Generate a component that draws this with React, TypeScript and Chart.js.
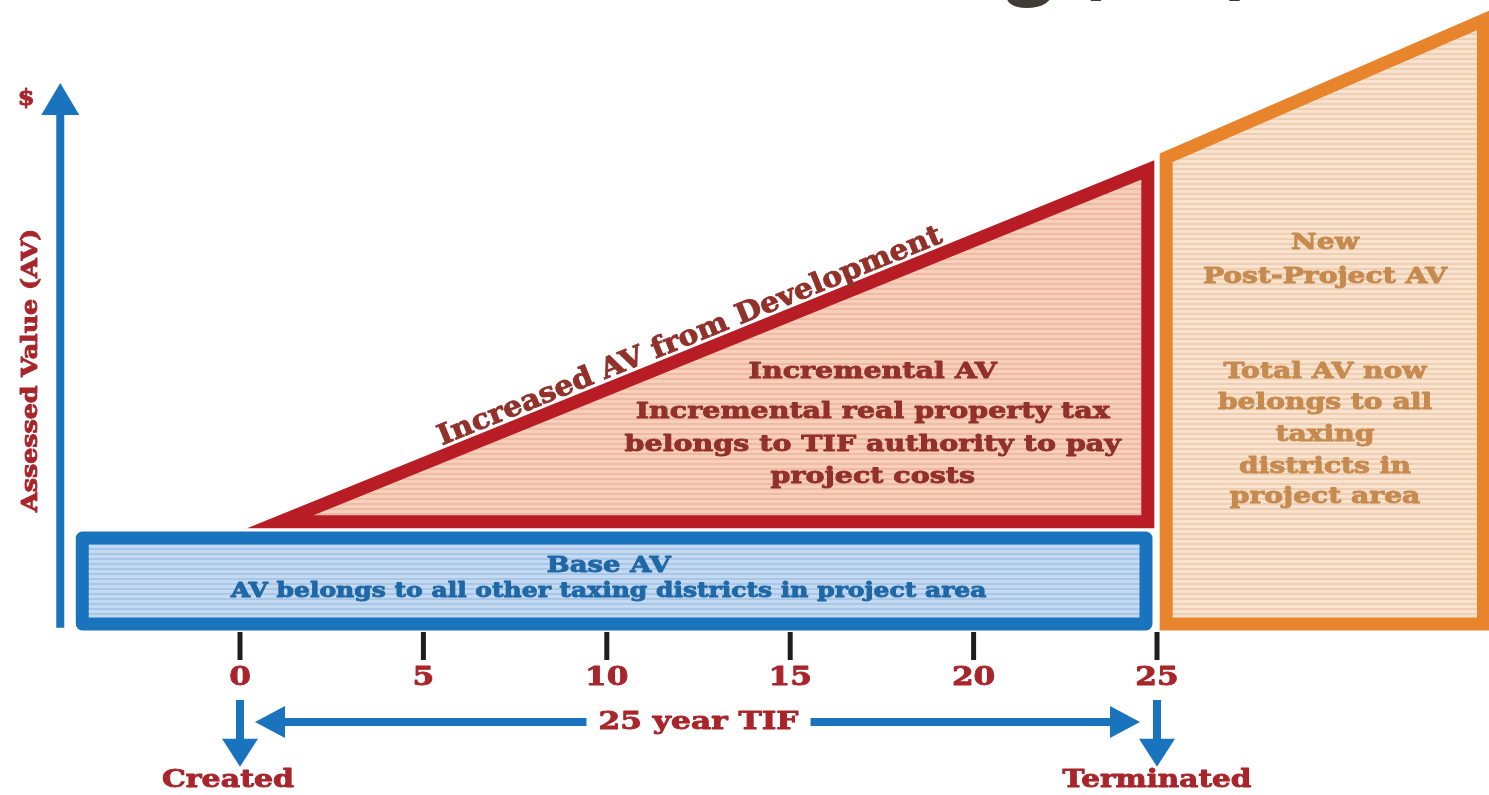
import React, { useEffect, useRef } from "react";
import { Chart, registerables } from "chart.js";

Chart.register(...registerables);

// ---------- data ----------
const tickYears = [0, 5, 10, 15, 20, 25];
const tickLabels = ["0", "5", "10", "15", "20", "25"];
const tifTerm = [0, 25];
const baseYears = [-4.3, 24.7];
const baseAV = [0, 10];
const incrementYears = [1.1, 24.75];
const incrementAV = [11.9, 52.8];
const postYears = [25.25, 33.9];
const postAVBottom = [0, 0];
const postAVTop = [54.2, 70.2];

// ---------- texts ----------
const titleText = "Tax Increment Financing (TIF)";
const yAxisTitle = "Assessed Value (AV)";
const slopeText = "Increased AV from Development";
const incrementalLines = [
  "Incremental AV",
  "Incremental real property tax",
  "belongs to TIF authority to pay",
  "project costs",
];
const baseLines = ["Base AV", "AV belongs to all other taxing districts in project area"];
const postLines = [
  "New",
  "Post-Project AV",
  "Total AV now",
  "belongs to all",
  "taxing",
  "districts in",
  "project area",
];
const termText = "25 year TIF";
const startText = "Created";
const endText = "Terminated";

// ---------- layout (data coordinates) ----------
const X_MIN = -6.543;
const X_MAX = 34.051;
const Y_MIN = -19.884;
const Y_MAX = 72.558;
const Y_AXIS_X = -4.9;
const incrementalTextX = 17.25;
const incrementalTextY = [29.3, 24.65, 20.8, 17.1];
const baseTextX = 10.05;
const baseTextY = [6.74, 3.72];
const postTextX = 29.58;
const postTextY = [44.3, 40.35, 29.3, 25.7, 21.98, 18.26, 14.77];
const tickTopY = -0.93;
const tickBottomY = -4.19;
const tickLabelY = -6.28;
const termArrowY = -11.4;
const downArrowTop = -8.84;
const downArrowTip = -16.6;
const startEndLabelY = -18.15;

const SERIF = '"DejaVu Serif", "Liberation Serif", serif';
const BLUE = "#1a74bd";
const RED = "#b81d25";
const ORANGE = "#e8842b";
const TEXT_RED = "#a8252b";
const TEXT_INC = "#92302a";
const TEXT_BLUE = "#1f68a6";
const TEXT_ORANGE = "#c68a4f";

function stripes(ctx: CanvasRenderingContext2D, base: string, stripe: string) {
  const c = document.createElement("canvas");
  c.width = 8;
  c.height = 5;
  const g = c.getContext("2d")!;
  g.fillStyle = base;
  g.fillRect(0, 0, 8, 5);
  g.fillStyle = stripe;
  g.fillRect(0, 3, 8, 2);
  return ctx.createPattern(c, "repeat")!;
}

const annotate = {
  id: "annotate",
  beforeDraw(chart: any) {
    const ctx = chart.ctx;
    ctx.save();
    ctx.fillStyle = "#ffffff";
    ctx.fillRect(0, 0, chart.width, chart.height);
    // partially visible page title
    ctx.font = 'bold 84px "Open Sans", sans-serif';
    ctx.fillStyle = "#403b37";
    ctx.textAlign = "right";
    ctx.textBaseline = "alphabetic";
    ctx.fillText(titleText, 1255, -12);
    ctx.restore();
  },
  afterDatasetsDraw(chart: any) {
    const ctx: CanvasRenderingContext2D = chart.ctx;
    const xs = chart.scales.x;
    const ys = chart.scales.y;
    const px = (v: number) => xs.getPixelForValue(v);
    const py = (v: number) => ys.getPixelForValue(v);
    const text = (
      s: string,
      x: number,
      y: number,
      size: number,
      color: string,
      hs = 1.2,
      baseline: CanvasTextBaseline = "middle"
    ) => {
      ctx.save();
      ctx.translate(x, y);
      ctx.scale(hs, 1);
      ctx.font = "bold " + size + "px " + SERIF;
      ctx.fillStyle = color;
      ctx.strokeStyle = color;
      ctx.lineWidth = 0.9;
      ctx.lineJoin = "round";
      ctx.textAlign = "center";
      ctx.textBaseline = baseline;
      ctx.fillText(s, 0, 0);
      ctx.strokeText(s, 0, 0);
      ctx.restore();
    };
    const arrowHead = (tx: number, ty: number, dx: number, dy: number, len: number, half: number) => {
      const bx = tx - dx * len;
      const by = ty - dy * len;
      ctx.fillStyle = BLUE;
      ctx.beginPath();
      ctx.moveTo(tx, ty);
      ctx.lineTo(bx - dy * half, by + dx * half);
      ctx.lineTo(bx + dy * half, by - dx * half);
      ctx.closePath();
      ctx.fill();
    };
    ctx.save();

    // y axis arrow
    ctx.strokeStyle = BLUE;
    ctx.lineWidth = 8;
    ctx.lineCap = "butt";
    const ax = px(Y_AXIS_X);
    ctx.beginPath();
    ctx.moveTo(ax, py(-0.45));
    ctx.lineTo(ax, py(62.9) + 25);
    ctx.stroke();
    arrowHead(ax, py(62.9), 0, -1, 32, 19);
    text("$", ax - 34, py(61.0), 22, TEXT_RED, 1.1);
    ctx.save();
    ctx.translate(ax - 29, py(29.5));
    ctx.rotate(-Math.PI / 2);
    text(yAxisTitle, 0, 0, 22, TEXT_RED, 1.15);
    ctx.restore();

    // text along the rising line
    const x0 = px(incrementYears[0]);
    const y0 = py(incrementAV[0]);
    const x1 = px(incrementYears[1]);
    const y1 = py(incrementAV[1]);
    const ang = Math.atan2(y1 - y0, x1 - x0);
    const mx = px(12.45);
    const my = y0 + ((mx - x0) / (x1 - x0)) * (y1 - y0);
    ctx.save();
    ctx.translate(mx, my);
    ctx.rotate(ang);
    text(slopeText, 0, -10, 28, TEXT_INC, 1.07, "alphabetic");
    ctx.restore();

    // incremental block
    incrementalLines.forEach((s, i) =>
      text(s, px(incrementalTextX), py(incrementalTextY[i]), 23, TEXT_INC, 1.24)
    );
    // base block
    text(baseLines[0], px(baseTextX), py(baseTextY[0]), 22, TEXT_BLUE, 1.25);
    text(baseLines[1], px(baseTextX), py(baseTextY[1]), 20, TEXT_BLUE, 1.25);
    // post-project block
    postLines.forEach((s, i) =>
      text(s, px(postTextX), py(postTextY[i]), 22, TEXT_ORANGE, 1.28)
    );

    // tick marks and labels
    ctx.strokeStyle = "#1e1e1e";
    ctx.lineWidth = 5;
    tickYears.forEach((t, i) => {
      ctx.beginPath();
      ctx.moveTo(px(t), py(tickTopY));
      ctx.lineTo(px(t), py(tickBottomY));
      ctx.stroke();
      text(tickLabels[i], px(t), py(tickLabelY), 26, TEXT_RED, 1.2);
    });

    // 25 year TIF arrow
    ctx.strokeStyle = BLUE;
    ctx.lineWidth = 8;
    const ty = py(termArrowY);
    const lx = px(tifTerm[0]) + 15;
    const rx = px(tifTerm[1]) - 17;
    const cx = px((tifTerm[0] + tifTerm[1]) / 2);
    ctx.font = "bold 25px " + SERIF;
    const tw = ctx.measureText(termText).width * 1.25;
    ctx.beginPath();
    ctx.moveTo(cx - tw / 2 - 12, ty);
    ctx.lineTo(lx + 25, ty);
    ctx.moveTo(cx + tw / 2 + 12, ty);
    ctx.lineTo(rx - 25, ty);
    ctx.stroke();
    arrowHead(lx, ty, -1, 0, 30, 16);
    arrowHead(rx, ty, 1, 0, 30, 16);
    text(termText, cx, ty, 25, TEXT_RED, 1.25);

    // created / terminated arrows
    [tifTerm[0], tifTerm[1]].forEach((t) => {
      const dx = px(t);
      ctx.strokeStyle = BLUE;
      ctx.lineWidth = 8;
      ctx.beginPath();
      ctx.moveTo(dx, py(downArrowTop));
      ctx.lineTo(dx, py(downArrowTip) - 24);
      ctx.stroke();
      arrowHead(dx, py(downArrowTip), 0, 1, 28, 18);
    });
    text(startText, px(tifTerm[0]) - 12, py(startEndLabelY), 25, TEXT_RED, 1.2);
    text(endText, px(tifTerm[1]), py(startEndLabelY), 25, TEXT_RED, 1.18);

    ctx.restore();
  },
};

export default function App() {
  const ref = useRef<HTMLCanvasElement | null>(null);
  useEffect(() => {
    const canvas = ref.current!;
    const ctx = canvas.getContext("2d")!;
    const bMid = (baseYears[0] + baseYears[1]) / 2;
    const basePts = [
      { x: bMid, y: baseAV[0] },
      { x: baseYears[1], y: baseAV[0] },
      { x: baseYears[1], y: baseAV[1] },
      { x: baseYears[0], y: baseAV[1] },
      { x: baseYears[0], y: baseAV[0] },
      { x: bMid, y: baseAV[0] },
    ];
    const iMid = (incrementYears[0] + incrementYears[1]) / 2;
    const incPts = [
      { x: iMid, y: incrementAV[0] },
      { x: incrementYears[1], y: incrementAV[0] },
      { x: incrementYears[1], y: incrementAV[1] },
      { x: incrementYears[0], y: incrementAV[0] },
      { x: iMid, y: incrementAV[0] },
    ];
    const pMid = (postYears[0] + postYears[1]) / 2;
    const postPts = [
      { x: pMid, y: postAVBottom[0] },
      { x: postYears[1], y: postAVBottom[1] },
      { x: postYears[1], y: postAVTop[1] },
      { x: postYears[0], y: postAVTop[0] },
      { x: postYears[0], y: postAVBottom[0] },
      { x: pMid, y: postAVBottom[0] },
    ];
    const common = {
      pointRadius: 0,
      borderWidth: 13,
      fill: "shape",
      tension: 0,
      borderCapStyle: "butt",
    };
    const chart = new Chart(canvas, {
      type: "line",
      data: {
        datasets: [
          {
            ...common,
            label: "Base AV",
            data: basePts,
            borderColor: BLUE,
            backgroundColor: stripes(ctx, "#c4daf1", "#a9c5e7"),
            borderJoinStyle: "round",
          },
          {
            ...common,
            label: "Incremental AV",
            data: incPts,
            borderColor: RED,
            backgroundColor: stripes(ctx, "#f8cfbb", "#efbaa3"),
            borderJoinStyle: "miter",
          },
          {
            ...common,
            label: "New Post-Project AV",
            data: postPts,
            borderColor: ORANGE,
            backgroundColor: stripes(ctx, "#f9e3cf", "#efcfb3"),
            borderJoinStyle: "miter",
          },
        ] as any,
      },
      options: {
        animation: false,
        responsive: false,
        devicePixelRatio: 1,
        layout: { padding: 0 },
        plugins: { legend: { display: false }, tooltip: { enabled: false }, title: { display: false } },
        scales: {
          x: { type: "linear", min: X_MIN, max: X_MAX, display: false },
          y: { type: "linear", min: Y_MIN, max: Y_MAX, display: false },
        },
        events: [],
      } as any,
      plugins: [annotate],
    });
    return () => chart.destroy();
  }, []);
  return (
    <div style={{ position: "absolute", left: 0, top: 0, width: 1489, height: 795 }}>
      <canvas ref={ref} width={1489} height={795} style={{ width: 1489, height: 795, display: "block" }} />
    </div>
  );
}
